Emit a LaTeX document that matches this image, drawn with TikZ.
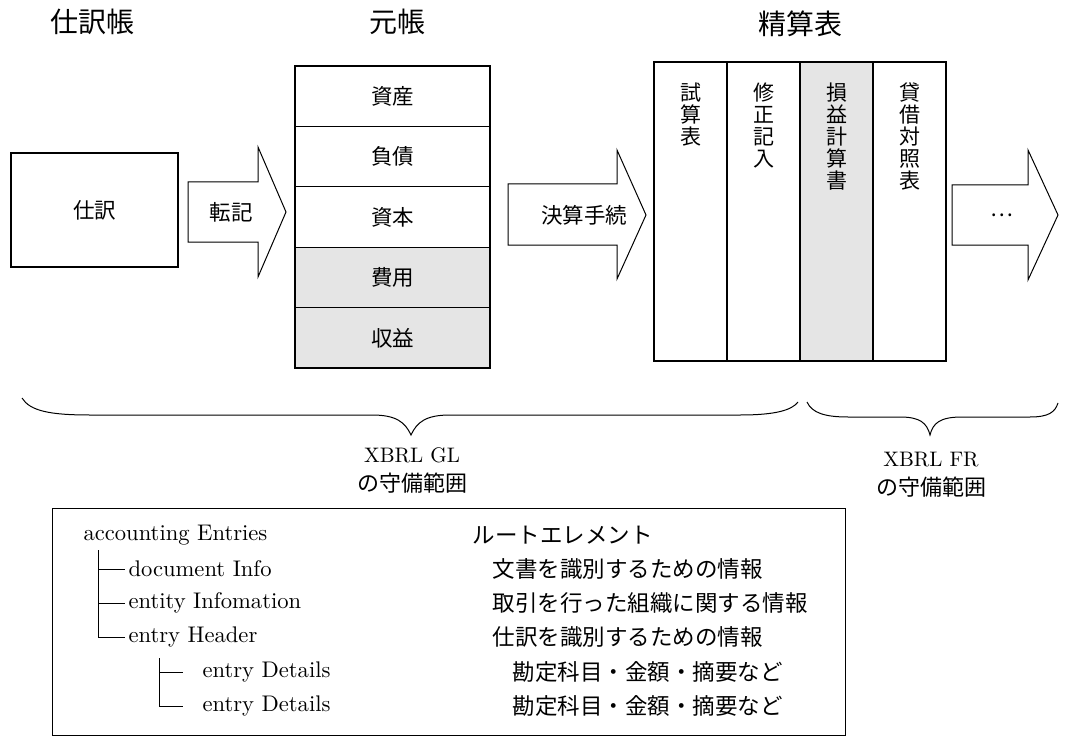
\documentclass[tikz,border=0pt]{standalone}
\usepackage{fontspec}
\newfontfamily\jp{Noto Sans CJK JP}
\newfontfamily\lmten{lmroman10-regular.otf}
\begin{document}
\begin{tikzpicture}[x=1pt,y=-1pt,
  line width=1.1pt,
  title/.style={font=\jp\fontsize{28}{30}\selectfont, inner sep=0},
  lab/.style={font=\jp\fontsize{21.5}{23}\selectfont, inner sep=0},
  cell/.style={draw, minimum width=195pt, minimum height=60.4pt, inner sep=0, outer sep=0, font=\jp\fontsize{21.5}{23}\selectfont},
  shadecell/.style={cell, fill=black!10},
  col/.style={draw, minimum width=73pt, minimum height=299pt, inner sep=0, outer sep=0},
  vt/.style={anchor=north, align=center, inner sep=0, font=\jp\fontsize{21}{22}\selectfont},
  blockarrow/.style={draw, fill=white, line width=1pt},
  latin/.style={anchor=west, inner sep=0, font=\lmten\fontsize{22.6}{24}\selectfont},
  jtext/.style={anchor=west, inner sep=0, font=\jp\fontsize{22.5}{24}\selectfont},
  brace/.style={line width=1pt},
  scope/.style={align=center, inner sep=0, font=\lmten\fontsize{21}{29}\selectfont}
]
\useasboundingbox (0,0) rectangle (1065,738);

% titles
\node[title] (t1) at (92,22) {仕訳帳};
\node[title] (t2) at (397,22) {元帳};
\node[title] (t3) at (800,24) {精算表};

% journal box
\node[draw, minimum width=167pt, minimum height=114pt, inner sep=0, font=\jp\fontsize{21.5}{23}\selectfont] (shiwake) at (94.5,210) {仕訳};

% arrow 1
\draw[blockarrow] (188,182) -- (258,182) -- (258,147) -- (286,212) -- (258,277) -- (258,242) -- (188,242) -- cycle;
\node[lab] (tenki) at (231,212) {転記};

% ledger
\node[cell] (r1) at (392.5,96.2) {資産};
\node[cell, anchor=north] (r2) at (r1.south) {負債};
\node[cell, anchor=north] (r3) at (r2.south) {資本};
\node[shadecell, anchor=north] (r4) at (r3.south) {費用};
\node[shadecell, anchor=north] (r5) at (r4.south) {収益};

% arrow 2
\draw[blockarrow] (508,184) -- (617,184) -- (617,150) -- (646,215) -- (617,279) -- (617,245) -- (508,245) -- cycle;
\node[lab] (kessan) at (584,215) {決算手続};

% worksheet
\node[col] (c1) at (690.5,211.5) {};
\node[col, anchor=west] (c2) at (c1.east) {};
\node[col, anchor=west, fill=black!10] (c3) at (c2.east) {};
\node[col, anchor=west] (c4) at (c3.east) {};
\node[vt] (v1) at ([yshift=-20pt]c1.north) {試\\算\\表};
\node[vt] (v2) at ([yshift=-20pt]c2.north) {修\\正\\記\\入};
\node[vt] (v3) at ([yshift=-20pt]c3.north) {損\\益\\計\\算\\書};
\node[vt] (v4) at ([yshift=-20pt]c4.north) {貸\\借\\対\\照\\表};

% arrow 3
\draw[blockarrow] (952,185) -- (1028,185) -- (1028,150) -- (1058,215) -- (1028,280) -- (1028,245) -- (952,245) -- cycle;
\node[lab] (dots) at (1002,215) {…};

% braces
\draw[brace] (22,398) .. controls (30,411) and (50,415) .. (90,415) -- (372,415)
  .. controls (396,415) and (405,422) .. (411,435)
  .. controls (417,422) and (426,415) .. (450,415) -- (740,415)
  .. controls (776,415) and (792,410) .. (798,402);
\draw[brace] (807,402) .. controls (812,413) and (825,417) .. (848,417) -- (900,417)
  .. controls (920,417) and (927,423) .. (930,435)
  .. controls (933,423) and (940,417) .. (962,417) -- (1030,417)
  .. controls (1049,417) and (1055,412) .. (1058,403);
\node[scope] (gl) at (412,470) {XBRL GL\\{\jp\fontsize{22}{24}\selectfont の守備範囲}};
\node[scope] (fr) at (931,475) {XBRL FR\\{\jp\fontsize{22}{24}\selectfont の守備範囲}};

% element box
\node[draw, minimum width=793pt, minimum height=227pt, inner sep=0, line width=1pt] (elbox) at (448.5,621.5) {};
\node[latin] (ae) at (83,535) {accounting Entries};
\node[latin] (di) at (128,569) {document Info};
\node[latin] (ei) at (128,603) {entity Infomation};
\node[latin] (eh) at (128,637) {entry Header};
\node[latin] (ed1) at (202,672) {entry Details};
\node[latin] (ed2) at (202,706) {entry Details};
\coordinate (trunk1) at (98,550);
\coordinate (trunk2) at (159,658);
\draw[line width=1pt] (trunk1) |- ([xshift=-3pt]eh.west);
\draw[line width=1pt] (trunk1 |- di.west) -- ([xshift=-3pt]di.west);
\draw[line width=1pt] (trunk1 |- ei.west) -- ([xshift=-3pt]ei.west);
\draw[line width=1pt] (trunk2) |- ([xshift=-19pt]ed2.west);
\draw[line width=1pt] (trunk2 |- ed1.west) -- ([xshift=-19pt]ed1.west);

\node[jtext] (j1) at (472,535) {ルートエレメント};
\node[jtext] (j2) at (492,569) {文書を識別するための情報};
\node[jtext] (j3) at (492,603) {取引を行った組織に関する情報};
\node[jtext] (j4) at (492,637) {仕訳を識別するための情報};
\node[jtext] (j5) at (512,672) {勘定科目・金額・摘要など};
\node[jtext] (j6) at (512,706) {勘定科目・金額・摘要など};
\end{tikzpicture}
\end{document}
